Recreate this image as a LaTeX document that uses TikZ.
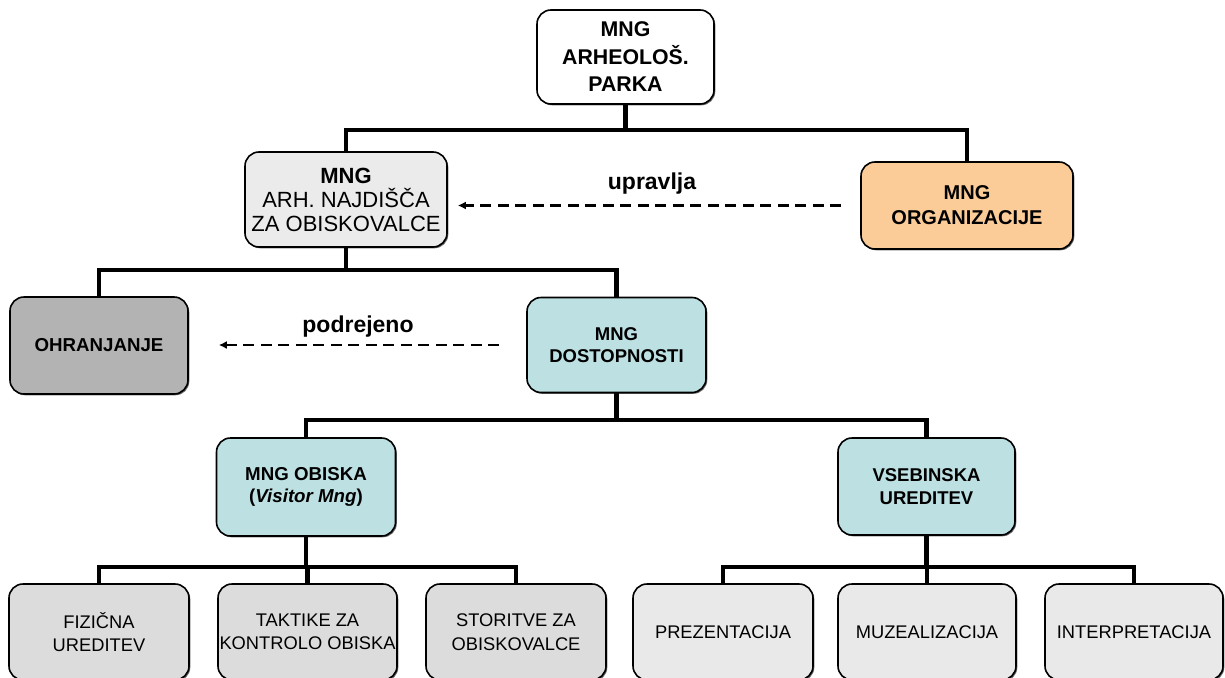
\documentclass[tikz,border=0pt]{standalone}
\usepackage{fontspec}
\setmainfont{Liberation Sans}
\usetikzlibrary{arrows.meta,shadows}
\definecolor{cTeal}{HTML}{BDE0E3}
\definecolor{cPeach}{HTML}{FBCB98}
\definecolor{cGreyA}{HTML}{EBEBEB}
\definecolor{cGreyD}{HTML}{B3B3B3}
\definecolor{cGreyB}{HTML}{DCDCDC}
\definecolor{cGreyC}{HTML}{E9E9E9}
\tikzset{
  box/.style={draw=black, line width=1.6pt, rounded corners=14pt, align=center, inner sep=0pt,
    drop shadow={shadow xshift=1.3pt, shadow yshift=-1.3pt, fill=black!60, opacity=1}},
  midbox/.style={box, minimum width=179pt, minimum height=97pt},
  lowbox/.style={box, minimum width=179pt, minimum height=96pt, font=\fontsize{18.3}{23.5}\selectfont},
  conn/.style={line width=4.3pt, draw=black},
  dasharr/.style={line width=2.7pt, dash pattern=on 11pt off 6.5pt, -{Latex[length=8pt,width=8pt]}},
  lbl/.style={font=\fontsize{23}{26}\selectfont\bfseries, inner sep=0pt}
}
\begin{document}
\begin{tikzpicture}[x=1pt,y=-1pt]
\useasboundingbox (0,0) rectangle (1225,677);
\clip (0,0) rectangle (1225,677);
% nodes
\node[box, fill=white, minimum width=177pt, minimum height=94pt,
  font=\fontsize{21.3}{27.5}\selectfont\bfseries] (top) at (625.5,57) {MNG\\ARHEOLOŠ.\\PARKA};
\node[box, fill=cGreyA, minimum width=202pt, minimum height=95pt,
  font=\fontsize{22}{24}\selectfont] (arh) at (346,199.5) {\textbf{MNG}\\ARH. NAJDIŠČA\\ZA OBISKOVALCE};
\node[box, fill=cPeach, minimum width=212pt, minimum height=87pt,
  font=\fontsize{20}{25}\selectfont\bfseries] (org) at (967,205.5) {MNG\\ORGANIZACIJE};
\node[midbox, fill=cGreyD, minimum width=178pt, font=\fontsize{18.7}{22}\selectfont\bfseries] (ohr) at (99,345.5) {OHRANJANJE};
\node[midbox, fill=cTeal, minimum height=95pt, font=\fontsize{18.5}{22.5}\selectfont\bfseries] (dost) at (616.5,345) {MNG\\DOSTOPNOSTI};
\node[midbox, fill=cTeal, minimum height=98pt, font=\fontsize{18.7}{22}\selectfont\bfseries] (obi) at (306,487) {MNG OBISKA\\(\textit{Visitor Mng})};
\node[midbox, fill=cTeal, minimum width=177pt, minimum height=97pt, font=\fontsize{18.5}{23}\selectfont\bfseries] (vseb) at (926.5,486.5) {VSEBINSKA\\UREDITEV};
\node[lowbox, fill=cGreyB, minimum width=180pt] (fiz) at (99,632) {FIZIČNA\\UREDITEV};
\node[lowbox, fill=cGreyB] (tak) at (307.5,632) {TAKTIKE ZA\\KONTROLO OBISKA};
\node[lowbox, fill=cGreyB, minimum width=180pt] (sto) at (516,632) {STORITVE ZA\\OBISKOVALCE};
\node[lowbox, fill=cGreyC, minimum width=180pt] (pre) at (723,632) {PREZENTACIJA};
\node[lowbox, fill=cGreyC, minimum width=178pt] (muz) at (927,632) {MUZEALIZACIJA};
\node[lowbox, fill=cGreyC, minimum width=178pt] (int) at (1134,632) {INTERPRETACIJA};
% bar levels
\coordinate (b1) at (0,130);
\coordinate (b2) at (0,270);
\coordinate (b3) at (0,420);
\coordinate (b4) at (0,567);
% tree connectors
\draw[conn] (top.south) -- (top.south |- b1) -| (arh.north);
\draw[conn] (top.south |- b1) -| (org.north);
\draw[conn] (arh.south) -- (arh.south |- b2) -| (ohr.north);
\draw[conn] (arh.south |- b2) -| (dost.north);
\draw[conn] (dost.south) -- (dost.south |- b3) -| (obi.north);
\draw[conn] (dost.south |- b3) -| (vseb.north);
\draw[conn] (obi.south) -- (obi.south |- b4) -| (fiz.north);
\draw[conn] (obi.south |- b4) -| (sto.north);
\draw[conn] (tak.north |- b4) -- (tak.north);
\draw[conn] (vseb.south) -- (vseb.south |- b4) -| (pre.north);
\draw[conn] (vseb.south |- b4) -| (int.north);
\draw[conn] (muz.north |- b4) -- (muz.north);
% dashed relations
\draw[dasharr, shorten <=19pt, shorten >=10pt] (org.west) -- (org.west -| arh.east);
\draw[dasharr, shorten <=27pt, shorten >=30pt] (dost.west) -- (dost.west -| ohr.east);
\node[lbl] (lup) at (652,184) {upravlja};
\node[lbl] (lpod) at (358,327) {podrejeno};
\end{tikzpicture}
\end{document}
